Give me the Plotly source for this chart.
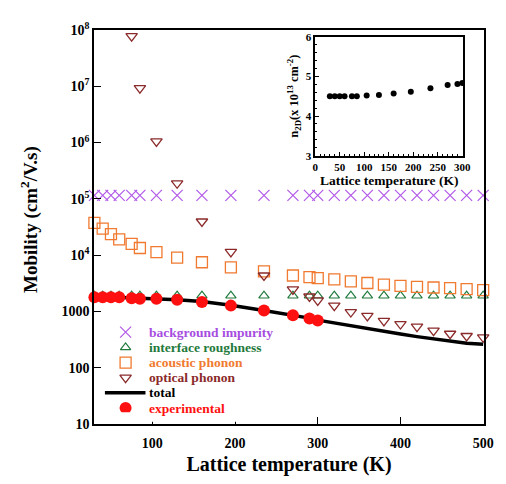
import plotly.graph_objects as go

# ---------------- data ----------------
T_model = [30, 40, 50, 60, 75, 85, 105, 130, 160, 195, 235, 270, 290, 300,
           320, 340, 360, 380, 400, 420, 440, 460, 480, 500]
mu_background = [115000] * len(T_model)
mu_interface = [1900] * len(T_model)
mu_acoustic = [37500, 29600, 23700, 19100, 15900, 13400, 11270, 9000, 7480, 6050,
               5160, 4350, 4070, 3910, 3710, 3420, 3200, 3000, 2840, 2730,
               2660, 2590, 2490, 2390]
T_optical = [75, 85, 105, 130, 160, 195, 235, 270, 290, 300,
             320, 340, 360, 380, 400, 420, 440, 460, 480, 500]
mu_optical = [7.8e7, 9.3e6, 1.05e6, 1.89e5, 39600, 11400, 4350, 2460, 1840, 1570,
              1270, 975, 832, 681, 597, 537, 457, 401, 366, 347]
mu_total = [1790, 1790, 1785, 1780, 1750, 1720, 1680, 1620, 1500, 1290,
            1040, 860, 760, 700, 621, 558, 495, 440, 396, 357, 325, 296, 273, 262]
T_exp = [30, 40, 50, 60, 75, 85, 105, 130, 160, 195, 235, 270, 290, 300]
mu_exp = [1792, 1792, 1792, 1792, 1722, 1675, 1675, 1610, 1469, 1268,
          1040, 853, 748, 690]
n2d = [4.50, 4.50, 4.50, 4.50, 4.50, 4.50, 4.52, 4.53, 4.57, 4.61,
       4.70, 4.78, 4.81, 4.83]

y_tickvals = [10, 100, 1000, 1e4, 1e5, 1e6, 1e7, 1e8]
y_ticktext = ["10", "100", "1000", "10<sup>4</sup>", "10<sup>5</sup>",
              "10<sup>6</sup>", "10<sup>7</sup>", "10<sup>8</sup>"]
x_tickvals = [100, 200, 300, 400, 500]

legend_labels = ["background impurity", "interface roughness", "acoustic phonon",
                 "optical phonon", "total", "experimental"]

C_PURPLE = "#b259e8"
C_PURPLE_TXT = "#a64de0"
C_GREEN = "#1f7a3c"
C_ORANGE = "#f07a30"
C_BROWN = "#8b2a2a"
C_RED = "#ff1010"

FONT = "Liberation Serif"

styles = [
    dict(symbol="x-thin", size=11, color=C_PURPLE, line=dict(color=C_PURPLE, width=1.2)),
    dict(symbol="triangle-up-open", size=9, color=C_GREEN, line=dict(width=1.2)),
    dict(symbol="square-open", size=11, color=C_ORANGE, line=dict(width=1.3)),
    dict(symbol="triangle-down-open", size=10, color=C_BROWN, line=dict(width=1.3)),
    None,
    dict(symbol="circle", size=12, color=C_RED),
]
text_colors = [C_PURPLE_TXT, C_GREEN, C_ORANGE, C_BROWN, "#000000", C_RED]

fig = go.Figure()

fig.add_trace(go.Scatter(x=T_model, y=mu_background, mode="markers",
    marker=styles[0], cliponaxis=False, showlegend=False))
fig.add_trace(go.Scatter(x=T_model, y=mu_interface, mode="markers",
    marker=styles[1], cliponaxis=False, showlegend=False))
fig.add_trace(go.Scatter(x=T_model, y=mu_acoustic, mode="markers",
    marker=styles[2], cliponaxis=False, showlegend=False))
fig.add_trace(go.Scatter(x=T_optical, y=mu_optical, mode="markers",
    marker=styles[3], cliponaxis=False, showlegend=False))
fig.add_trace(go.Scatter(x=T_model, y=mu_total, mode="lines",
    line=dict(color="black", width=3.5), showlegend=False))
fig.add_trace(go.Scatter(x=T_exp, y=mu_exp, mode="markers",
    marker=styles[5], cliponaxis=False, showlegend=False))

# inset
fig.add_trace(go.Scatter(x=T_exp, y=n2d, mode="markers", showlegend=False,
    xaxis="x2", yaxis="y2",
    marker=dict(symbol="circle", size=6, color="black")))

# ---- hand-built compact legend (legend keys on a hidden overlay axis) ----
leg_top = 0.233
leg_step = 0.0385
key_x = 0.081
for i, (lbl, st, tc) in enumerate(zip(legend_labels, styles, text_colors)):
    yy = leg_top - i * leg_step
    if st is None:
        fig.add_trace(go.Scatter(x=[0.028, 0.132], y=[yy, yy], mode="lines",
            line=dict(color="black", width=3.5), showlegend=False,
            xaxis="x3", yaxis="y3", cliponaxis=False))
    else:
        fig.add_trace(go.Scatter(x=[key_x], y=[yy], mode="markers", marker=st,
            showlegend=False, xaxis="x3", yaxis="y3", cliponaxis=False))
    fig.add_annotation(x=0.137, y=yy, xref="paper", yref="paper",
        text="<b>%s</b>" % lbl, showarrow=False, xanchor="left", yanchor="middle",
        font=dict(family=FONT, size=13.5, color=tc))

# y-axis title (placed slightly above centre, as in the original)
fig.add_annotation(x=-0.167, y=0.52, xref="paper", yref="paper",
    text="<b>Mobility (cm<sup>2</sup>/V.s)</b>", textangle=-90, showarrow=False,
    xanchor="center", yanchor="middle", font=dict(family=FONT, size=19, color="black"))

# white legend backing hides the bottom ticks under the legend box
fig.add_shape(type="rect", xref="paper", yref="paper", x0=0.03, x1=0.46,
              y0=0.006, y1=0.03, fillcolor="white", line=dict(width=0), layer="above")

axis_common = dict(showline=True, linecolor="black", linewidth=1.5, mirror=True,
                   ticks="inside", tickcolor="black", showgrid=False, zeroline=False)

# page body has an 8px default margin, so the figure is offset by (8, 8)
fig.update_layout(
    width=498, height=476,
    margin=dict(l=86, r=16, t=12, b=55),
    paper_bgcolor="white", plot_bgcolor="white",
    font=dict(family=FONT, color="black"),
    showlegend=False,
    xaxis=dict(**axis_common, range=[29.5, 501], tickvals=x_tickvals, ticklen=7,
               ticklabelstandoff=5,
               tickfont=dict(family=FONT, size=14, color="black", weight="bold"),
               title=dict(text="<b>Lattice temperature (K)</b>",
                          font=dict(family=FONT, size=20), standoff=7)),
    yaxis=dict(**axis_common, type="log", range=[1, 8], tickvals=y_tickvals,
               ticktext=["<b>%s</b>" % t for t in y_ticktext], ticklen=7,
               tickfont=dict(family=FONT, size=14, color="black")),
    xaxis3=dict(overlaying="x", range=[0, 1], visible=False, anchor="y3"),
    yaxis3=dict(overlaying="y", range=[0, 1], visible=False, anchor="x3"),
    xaxis2=dict(**axis_common, domain=[0.567, 0.947], anchor="y2", range=[0, 302],
                dtick=50, ticklen=4,
                minor=dict(dtick=10, ticks="inside", ticklen=2, tickcolor="black"),
                tickfont=dict(family=FONT, size=11, color="black", weight="bold"),
                title=dict(text="<b>Lattice temperature (K)</b>",
                           font=dict(family=FONT, size=13.5), standoff=2)),
    yaxis2=dict(**axis_common, domain=[0.681, 0.983], anchor="x2", range=[3, 6],
                dtick=1, ticklen=4,
                minor=dict(dtick=0.2, ticks="inside", ticklen=2, tickcolor="black"),
                tickfont=dict(family=FONT, size=11, color="black", weight="bold"),
                title=dict(text="<b>n<sub>2D</sub>(x 10<sup>13</sup> cm<sup>-2</sup>)</b>",
                           font=dict(family=FONT, size=12.5), standoff=4)),
)

fig.write_html("out.html")
